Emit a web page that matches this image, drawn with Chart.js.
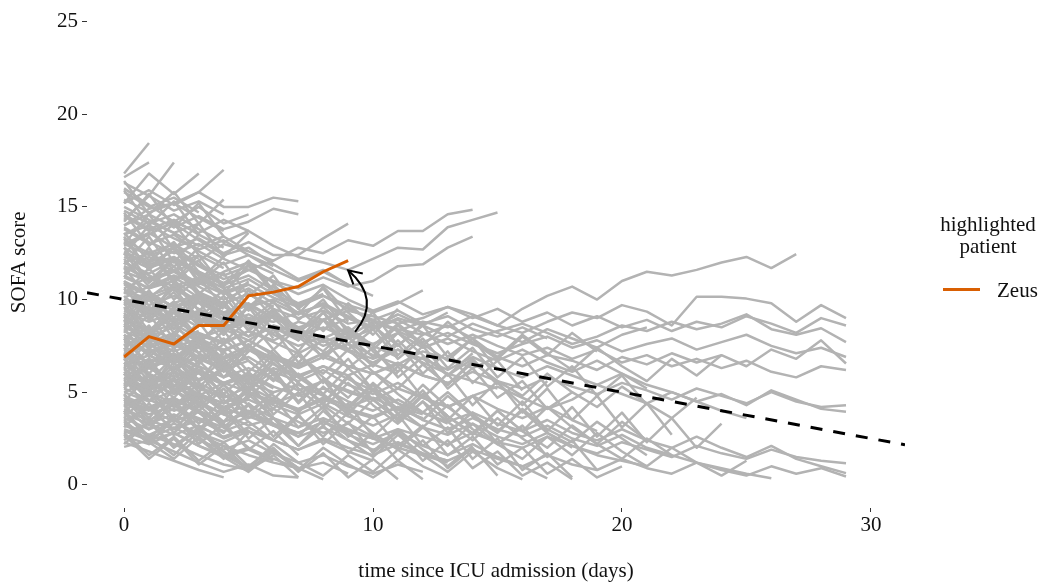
<!DOCTYPE html>
<html>
<head>
<meta charset="utf-8">
<script src="https://cdn.jsdelivr.net/npm/chart.js@4.4.0/dist/chart.umd.min.js"></script>
<style>
  body { margin: 0; background: #fff; }
  #wrap { position: relative; width: 1041px; height: 584px; }
  #legend { font-family: 'Liberation Serif', serif; font-size: 21px; color: #111; }
  #legend .title { position: absolute; left: 930px; top: 213px; width: 116px; text-align: center; line-height: 22px; }
  #legend .key { position: absolute; left: 943px; top: 288px; width: 37px; height: 3px; background: #d95f02; }
  #legend .name { position: absolute; left: 997px; top: 278px; line-height: 24px; }
</style>
</head>
<body>
<div id="wrap">
  <canvas id="myChart" width="1041" height="584"></canvas>
  <div id="legend">
    <div class="title">highlighted<br>patient</div>
    <div class="key"></div>
    <div class="name">Zeus</div>
  </div>
</div>
<script>
// SOFA score per day since admission, one array per patient
let longStays = [
  [11.2, 10.6, 11.0, 10.1, 9.8, 10.3, 9.5, 9.0, 9.4, 8.7, 8.9, 8.3, 8.8, 8.5, 9.1, 8.6, 8.2, 8.8, 9.3, 9.0, 9.7, 9.35, 8.6, 10.15, 10.15, 10.05, 9.8, 8.8, 9.7, 9.0],
  [9.8, 10.4, 9.6, 9.9, 9.2, 8.8, 9.3, 8.5, 8.9, 9.6, 8.8, 8.4, 8.1, 8.6, 7.9, 8.3, 8.7, 8.2, 7.6, 8.0, 8.6, 8.3, 8.8, 8.4, 8.7, 9.2, 8.4, 8.1, 8.45, 7.7],
  [7.5, 8.1, 7.4, 7.9, 8.4, 7.8, 8.6, 8.2, 7.5, 8.0, 8.8, 8.3, 7.7, 8.2, 7.6, 7.1, 7.6, 8.0, 7.4, 7.8, 7.2, 7.6, 7.9, 7.3, 7.7, 8.1, 7.5, 7.1, 7.4, 6.9],
  [6.2, 6.8, 6.3, 7.0, 6.6, 7.3, 6.9, 6.4, 7.1, 7.6, 7.0, 6.5, 7.2, 6.8, 6.3, 6.9, 6.4, 7.0, 6.7, 6.2, 6.9, 6.5, 7.1, 6.6, 7.0, 6.4, 7.3, 6.8, 7.8, 6.55],
  [12.0, 11.3, 10.7, 11.2, 10.4, 9.6, 10.0, 9.3, 9.7, 9.0, 8.4, 8.9, 8.2, 7.6, 8.1, 7.5, 7.0, 7.4, 6.8, 7.3, 6.6, 7.0, 6.4, 6.8, 6.3, 6.7, 6.1, 5.8, 6.4, 6.2],
  [8.6, 8.0, 8.5, 7.7, 7.2, 7.8, 7.0, 6.5, 7.1, 6.4, 6.0, 6.6, 5.9, 5.5, 6.1, 5.6, 5.2, 5.8, 5.3, 4.9, 5.5, 5.1, 4.6, 5.2, 4.8, 4.4, 5.0, 4.5, 4.2, 4.3],
  [5.4, 5.9, 5.2, 4.8, 5.5, 5.0, 4.4, 4.9, 5.6, 5.1, 4.6, 5.2, 4.7, 4.2, 4.8, 5.3, 4.7, 4.1, 4.6, 5.4, 4.9, 4.4, 5.0, 4.5, 4.9, 4.3, 5.1, 4.6, 4.1, 3.95],
  [4.0, 3.5, 4.1, 3.6, 3.1, 3.7, 3.2, 2.8, 3.4, 2.9, 2.5, 3.0, 2.6, 2.2, 2.8, 2.3, 2.0, 2.6, 2.1, 1.7, 2.3, 1.9, 1.5, 2.1, 1.7, 1.4, 1.9, 1.5, 1.3, 1.17],
  [7.0, 6.4, 6.9, 6.1, 5.5, 6.0, 5.3, 4.8, 5.2, 4.5, 4.0, 4.6, 3.9, 3.4, 3.9, 3.3, 2.9, 3.5, 2.8, 2.4, 3.0, 2.4, 2.0, 2.6, 2.0, 1.5, 2.1, 1.4, 1.0, 0.63],
  [3.2, 2.7, 3.3, 2.8, 2.3, 2.9, 2.4, 1.9, 2.5, 2.0, 1.6, 2.2, 1.7, 1.3, 1.9, 1.4, 1.0, 1.6, 1.1, 0.8, 1.4, 0.9, 0.6, 1.2, 0.8, 0.5, 1.0, 0.6, 0.9, 0.45],
  [13.0, 12.4, 12.8, 11.9, 11.3, 11.8, 10.9, 10.3, 10.8, 10.0, 9.4, 9.9, 9.2, 9.6, 9.0, 9.5, 8.8, 9.3, 8.6, 9.1, 8.5, 8.9, 8.3, 8.8, 8.5, 9.1, 8.7, 8.2, 9.0, 8.6]
];

let mediumStays = [
  [9.5, 9.0, 9.8, 10.3, 9.6, 9.0, 8.8, 9.3, 8.9, 9.4, 9.1, 8.7, 9.0, 9.6, 9.2, 8.6, 9.5, 10.2, 10.7, 10.0, 11.0, 11.5, 11.3, 11.6, 12.0, 12.3, 11.7, 12.45],
  [6.0, 5.4, 5.9, 5.2, 4.7, 5.3, 4.6, 4.1, 4.7, 4.0, 3.6, 4.2, 3.5, 3.0, 3.6, 3.0, 2.6, 3.2, 2.5, 2.1, 2.7, 2.0, 1.6, 1.2, 0.9, 0.6, 0.35],
  [10.5, 10.0, 10.6, 9.8, 9.2, 9.7, 9.0, 8.4, 8.9, 8.1, 7.6, 8.2, 7.4, 7.9, 7.2, 6.7, 7.3, 6.6, 6.1, 6.7, 6.0, 5.4, 5.0, 4.5, 4.0, 3.6],
  [9.0, 8.4, 8.9, 8.1, 7.6, 8.3, 7.7, 7.1, 7.8, 7.2, 6.6, 7.3, 6.8, 6.2, 6.9, 6.3, 5.8, 6.4, 5.9, 5.4, 6.0, 5.2],
  [11.8, 11.0, 11.5, 10.7, 10.0, 10.6, 9.8, 9.2, 9.8, 9.1, 8.5, 9.2, 8.6, 8.0, 8.7, 8.2, 7.7, 8.4, 7.9, 7.4, 8.1, 8.5],
  [4.5, 4.0, 4.6, 3.9, 3.4, 4.0, 3.3, 2.8, 3.4, 2.7, 2.2, 2.8, 2.1, 1.6, 2.2, 1.5, 1.0, 0.35],
  [7.8, 7.2, 7.7, 6.9, 6.3, 6.9, 6.1, 5.6, 6.2, 5.4, 4.9, 5.5, 4.7, 4.2, 4.8, 4.1, 3.6, 4.2, 3.5, 2.9],
  [5.8, 5.2, 5.7, 4.9, 4.4, 5.0, 4.3, 3.8, 4.4, 3.7, 3.2, 3.8, 3.1, 2.7, 3.3, 2.6, 2.2, 2.8, 2.1, 1.6, 1.3, 1.0],
  [12.5, 11.8, 12.2, 11.3, 10.6, 11.1, 10.3, 9.7, 10.2, 9.5, 8.9, 9.4, 8.7, 9.1, 8.4, 8.0, 8.5, 7.9],
  [10.0, 9.3, 9.8, 9.0, 8.4, 8.9, 8.1, 7.5, 8.0, 7.3, 6.8, 7.3, 6.6, 6.0, 5.6, 5.2]
];

let lateStays = [
  [7.9, 6.4, 7.8, 6.6, 7.9, 6.7, 5.7, 7.0, 6.0, 7.3, 6.1, 5.2, 6.5, 5.4, 6.6, 5.6, 4.8, 6.0, 5.0, 4.2, 5.3, 4.4, 3.6, 4.7],
  [5.2, 6.5, 5.0, 6.2, 4.9, 6.1, 4.8, 3.9, 5.3, 4.2, 5.5, 4.4, 3.5, 4.8, 3.7, 2.8, 4.1, 3.0, 2.3, 3.4, 2.5, 1.6],
  [10.2, 8.9, 9.9, 8.6, 9.7, 8.4, 9.5, 8.1, 7.2, 8.5, 7.5, 8.7, 7.6, 6.7, 7.9, 6.9, 8.1, 7.1, 6.2, 7.4, 6.4, 5.6, 6.8, 5.9, 7.0],
  [4.3, 3.0, 4.5, 3.3, 4.6, 3.4, 2.4, 3.7, 2.6, 3.9, 2.8, 1.9, 3.1, 2.1, 3.3, 2.2, 1.4, 2.6, 1.6, 2.8, 1.8, 1.0, 2.0, 1.2, 0.5, 1.3],
  [8.8, 10.3, 9.0, 10.4, 9.1, 8.0, 9.4, 8.2, 9.6, 8.4, 7.3, 8.6, 7.5, 8.8, 7.7, 6.8, 8.0, 7.0, 8.2, 7.2],
  [6.6, 5.2, 6.4, 5.0, 3.9, 5.3, 4.1, 5.5, 4.3, 3.3, 4.6, 3.5, 4.8, 3.7, 2.8, 4.0, 2.9, 4.2, 3.1, 2.2, 3.4, 2.4],
  [10.9, 9.3, 10.4, 8.8, 9.9, 8.3, 9.4, 7.8, 8.9, 7.3, 8.4, 6.8, 7.9, 6.3, 7.4, 5.8, 6.9, 5.3, 6.4, 4.8, 5.9, 4.3],
  [7.0, 8.4, 6.7, 8.0, 6.3, 7.6, 5.9, 7.2, 5.5, 6.8, 5.1, 6.4, 4.7, 6.0, 4.3, 5.6, 3.9, 5.2, 3.5, 4.8, 3.1, 4.4, 2.7],
  [9.2, 7.7, 6.5, 7.9, 6.6, 5.4, 6.8, 5.5, 4.4, 5.8, 4.6, 3.5, 4.9, 3.7, 2.7, 4.0, 2.9, 2.0, 3.2, 2.2, 1.4, 2.5, 1.6],
  [6.9, 5.3, 6.6, 5.0, 6.3, 4.7, 6.0, 4.4, 5.7, 4.1, 5.4, 3.8, 5.1, 3.5, 4.8, 3.2, 4.5, 2.9, 4.2, 2.6, 3.9, 2.3, 3.6, 2.0, 3.3]
];

let upperStays = [
  [13.5, 14.2, 13.6, 12.9, 13.4, 12.6, 12.1, 12.8, 12.5, 13.2, 12.9, 13.7, 13.7, 14.6, 14.85],
  [14.8, 14.1, 14.6, 13.8, 13.1, 13.7, 12.9, 12.3, 12.0, 11.6, 12.2, 12.8, 12.7, 13.9, 14.3, 14.7],
  [12.0, 11.4, 12.1, 11.5, 10.9, 11.6, 11.0, 10.6, 11.2, 10.7, 11.0, 11.8, 11.9, 12.8, 13.4],
  [13.0, 13.6, 12.8, 13.3, 12.5, 13.1, 12.4, 12.4, 13.3, 14.1],
  [15.2, 15.9, 15.1, 15.8, 15.0, 15.0, 15.5, 15.3],
  [14.0, 14.6, 13.9, 14.5, 13.8, 14.2, 14.9, 14.6],
  [16.8, 18.45],
  [15.2, 16.8, 15.7, 16.8],
  [14.3, 15.6, 17.4],
  [16.6, 17.4],
  [14.0, 14.9, 15.2, 15.8, 17.0],
  [16.0, 15.1, 14.2, 15.0, 14.1, 14.6]
];

let shortStays = [
  [11.5, 11.0, 11.6, 10.9, 10.3, 10.8, 10.1, 9.6, 10.2, 9.7, 9.3, 9.8, 10.5],
  [9.5, 10.1, 9.4, 8.8, 9.3, 8.7, 8.2, 8.8, 8.4, 9.0, 8.5, 9.2],
  [8.0, 7.5, 8.1, 7.4, 6.9, 7.5, 6.8, 6.3, 6.9, 6.4, 6.0, 6.5, 5.9, 5.5],
  [7.2, 6.6, 7.1, 6.4, 5.8, 6.3, 5.7, 5.1, 5.6, 5.0, 4.6],
  [6.5, 7.0, 6.3, 5.7, 6.2, 5.5, 5.0, 5.4, 4.8, 4.2, 4.7, 4.1, 3.6],
  [5.0, 4.5, 5.1, 4.4, 3.8, 4.3, 3.6, 3.1, 3.6, 3.0, 2.5, 2.0, 1.6, 1.2],
  [3.8, 3.3, 3.8, 3.1, 2.6, 3.1, 2.4, 1.9, 2.4, 1.8, 1.3],
  [2.6, 2.2, 2.8, 2.1, 1.6, 2.0, 1.4, 0.9, 1.2, 0.6],
  [10.8, 10.2, 10.7, 9.9, 9.3, 9.8, 9.0, 8.4, 8.9, 8.1],
  [12.6, 11.9, 12.3, 11.5, 10.8, 11.3, 10.5, 9.8, 10.3],
  [13.8, 13.0, 13.5, 12.6, 11.9, 12.4, 11.6, 11.0, 11.5, 10.8, 10.2],
  [9.0, 9.6, 8.9, 9.4, 8.7, 9.2, 8.5, 8.0, 8.5, 7.9, 8.4, 9.0, 8.6, 9.3],
  [6.0, 5.5, 6.1, 5.6, 6.2, 5.7, 6.3, 5.8, 6.4, 5.9, 6.5, 6.0],
  [4.2, 4.8, 4.3, 4.9, 4.4, 5.0, 4.5, 4.0, 4.6, 4.1, 3.7, 4.2, 3.8],
  [11.0, 10.3, 9.6, 10.1, 9.3, 8.6, 9.1, 8.3, 7.7, 8.2, 7.5, 6.9],
  [14.5, 13.7, 14.1, 13.2, 12.4, 12.8, 11.9, 11.1, 11.6, 10.8],
  [8.3, 7.7, 8.2, 7.4, 6.8, 7.3, 6.5, 5.9, 6.4, 5.7, 5.1, 4.4, 3.9, 3.3],
  [5.6, 5.0, 4.4, 4.9, 4.2, 3.6, 4.1, 3.4, 2.8, 3.3, 2.6],
  [3.0, 2.5, 3.1, 2.4, 1.9, 2.4, 1.7, 1.2, 1.6, 1.0, 0.6, 1.1, 0.7],
  [7.5, 8.1, 7.6, 8.2, 7.7, 8.3, 7.8, 8.4, 7.9, 8.5],
  [10.0, 9.4, 8.8, 9.3, 8.6, 8.0, 8.5, 7.8],
  [4.6, 4.1, 4.7, 4.0, 3.4, 3.9, 3.2, 2.6, 3.1, 2.4, 1.9, 2.3, 1.7, 1.3],
  [8.2, 9.6, 7.9, 10.1, 8.8, 7.4, 9.2, 8.0, 6.9, 8.4, 7.2, 6.1, 7.5, 5.9, 6.8, 5.4],
  [6.8, 5.1, 6.9, 5.6, 7.2, 5.8, 4.6, 6.0, 4.9, 3.8, 5.2, 4.1, 3.1, 4.3, 3.0, 2.2, 3.1],
  [4.9, 3.6, 5.2, 3.9, 2.8, 4.4, 3.3, 2.1, 3.5, 2.4, 1.5, 2.7, 1.6, 0.7, 1.8, 0.9, 0.3],
  [10.6, 9.1, 10.9, 9.4, 8.1, 9.7, 8.4, 7.2, 8.9, 7.6, 6.4, 7.8, 6.5, 5.4, 6.7, 5.5, 4.3, 5.6],
  [12.2, 10.7, 11.8, 10.2, 8.9, 10.5, 9.0, 7.8, 9.3, 8.0, 6.9, 8.2, 7.0, 5.9, 7.1],
  [7.3, 8.6, 6.8, 8.0, 6.5, 5.6, 7.1, 5.8, 4.9, 6.3, 5.1, 4.0, 5.4, 4.2, 3.2],
  [3.4, 2.2, 3.6, 2.5, 1.4, 2.9, 1.8, 0.8, 2.0, 1.1, 0.4, 1.3, 0.3],
  [9.1, 7.6, 8.8, 7.1, 8.3, 6.7, 5.6, 7.0, 5.8, 4.7, 6.1, 4.9, 3.9, 5.0, 3.8, 2.9, 4.0, 2.8, 2.0],
  [5.9, 7.4, 6.2, 7.8, 6.4, 5.2, 6.8, 5.5, 4.4, 5.9, 4.6, 3.6, 4.9, 3.7],
  [11.4, 12.6, 10.9, 12.1, 10.6, 9.4, 10.8, 9.5, 8.3, 9.8, 8.6, 7.5, 8.7],
  [2.4, 3.4, 2.1, 3.1, 1.8, 0.9, 2.2, 1.2, 0.5, 1.6, 0.7, 1.9, 1.0, 0.4],
  [8.9, 7.3, 6.2, 7.7, 6.3, 5.0, 6.6, 5.2, 4.1, 5.5, 4.3, 3.3, 4.5, 3.4, 2.4, 3.6, 2.5, 1.6],
  [13.6, 12.1, 13.1, 11.5, 10.3, 11.9, 10.4, 9.2, 10.7, 9.3, 8.1, 9.5],
  [6.3, 4.8, 6.1, 4.5, 3.4, 4.9, 3.6, 2.6, 4.0, 2.8, 1.8, 3.0, 1.9, 1.0, 2.1],
  [9.8, 8.1, 9.5, 7.6, 8.9, 7.2, 8.4, 6.6, 7.9, 6.3, 7.4, 5.8, 6.9, 5.2, 6.3, 4.7, 5.6, 4.1, 5.0],
  [7.6, 6.0, 7.4, 5.6, 6.8, 5.1, 6.2, 4.5, 5.7, 3.9, 5.1, 3.4, 4.5, 2.8, 3.9, 2.2, 3.2, 1.5, 2.4, 0.8],
  [5.3, 6.7, 4.9, 6.1, 4.4, 5.6, 3.8, 5.0, 3.2, 4.4, 2.6, 3.8, 2.1, 3.1, 1.4, 2.5, 0.8, 1.7, 0.4],
  [12.8, 11.0, 12.2, 10.3, 11.4, 9.6, 10.7, 8.9, 10.0, 8.2, 9.3, 7.5, 8.6, 6.9, 7.9, 6.2],
  [3.9, 5.2, 3.6, 4.8, 3.1, 4.3, 2.6, 3.8, 2.2, 3.4, 1.7, 2.9, 1.3, 2.4, 0.9, 1.8, 0.5, 1.2, 0.3],
  [8.5, 10.0, 8.2, 9.4, 7.7, 8.9, 7.3, 8.5, 6.8, 8.0, 6.4, 7.6, 6.0, 7.2, 5.5, 6.7, 5.1],
  [6.1, 4.5, 5.7, 4.0, 5.2, 3.6, 4.7, 3.1, 4.2, 2.6, 3.7, 2.1, 3.2, 1.6, 2.6, 1.1, 2.0, 0.6, 1.4, 0.4, 1.0],
  [4.7, 3.2, 4.4, 2.9, 4.0, 2.5, 3.6, 2.1, 3.2, 1.7, 2.8, 1.3, 2.4, 0.9, 2.0, 0.5],
  [11.7, 10.1, 11.1, 9.4, 10.5, 8.8, 9.9, 8.2, 9.3, 7.6, 8.7, 7.0, 8.1],
  [2.8, 1.6, 2.6, 1.3, 2.3, 1.0, 2.0, 0.7, 1.7, 0.4, 1.4, 0.3],
  [3.5, 2.3, 1.4, 2.6, 1.5, 0.7, 1.8, 0.9, 0.3],
  [13.4, 11.6, 12.8, 10.9, 12.0, 10.2, 11.3, 9.5, 10.6, 8.8]
];

let briefStays = [
  [15.0, 14.3, 13.6, 14.1], [14.6, 13.8, 14.3, 13.5, 12.8], [13.9, 13.1, 12.5, 13.0, 12.2, 11.6, 12.1],
  [13.2, 12.5, 13.0, 12.2], [12.8, 12.0, 12.6, 11.8, 11.1, 11.6], [12.3, 11.7, 12.2, 11.4, 10.8],
  [11.8, 11.1, 11.6, 10.8], [11.3, 10.6, 11.2, 10.4, 9.8, 10.3, 9.6], [10.9, 10.3, 9.6],
  [10.4, 9.7, 10.2, 9.5, 8.9], [9.9, 9.2, 9.7, 8.9, 8.3, 8.8], [9.4, 8.8, 9.3, 8.5],
  [8.9, 8.2, 8.7, 7.9, 7.3, 7.8, 7.1], [8.5, 7.9, 7.2, 7.7], [8.1, 7.4, 7.9, 7.1, 6.5],
  [7.7, 7.1, 7.6, 6.8, 6.2, 6.7], [7.3, 6.6, 7.0, 6.3], [6.9, 6.3, 6.8, 6.0, 5.4, 5.9, 5.2],
  [6.6, 6.0, 5.4], [6.2, 5.6, 6.1, 5.3, 4.7], [5.8, 5.1, 5.6, 4.8, 4.2, 4.7],
  [5.5, 4.9, 5.4, 4.6], [5.2, 4.6, 4.0, 4.5, 3.8, 3.2, 3.6], [4.8, 4.2, 4.7, 3.9, 3.3],
  [4.4, 3.8, 4.3, 3.5, 2.9, 3.4], [4.1, 3.5, 3.0, 3.5, 2.8], [3.6, 3.0, 3.5, 2.7, 2.1, 1.6, 1.2, 0.9],
  [3.3, 2.7, 2.2, 1.6, 1.1, 0.8], [2.9, 2.4, 2.8, 2.1, 1.5, 1.9, 1.3], [2.3, 1.8, 1.3, 0.8, 0.4],
  [2.05, 2.4, 1.8, 1.2, 0.7, 1.1, 0.5, 0.4], [15.4, 14.7, 15.2, 14.4, 13.7], [13.5, 14.0, 13.3, 12.7, 13.2, 12.4, 11.8],
  [12.0, 12.5, 11.8, 12.4, 11.7], [10.6, 11.2, 10.5, 11.1, 10.4, 10.9], [9.7, 10.3, 9.6, 10.2, 9.5],
  [8.7, 9.3, 8.6, 9.2, 8.5, 9.0], [7.9, 8.5, 7.8, 8.3], [7.0, 7.6, 6.9, 7.5, 6.8, 7.3, 6.7],
  [6.4, 7.0, 6.3, 6.9], [5.7, 6.3, 5.6, 6.2, 5.5, 6.0], [5.0, 5.6, 4.9, 5.5, 4.8],
  [4.3, 4.9, 4.2, 4.8, 4.1, 4.6, 4.0], [3.5, 4.1, 3.4, 4.0, 3.3], [2.8, 3.3, 2.7, 3.2, 2.5, 3.0],
  [11.6, 12.3, 11.5, 12.1, 13.0, 12.6], [16.3, 15.6, 14.8, 15.3, 14.6], [15.8, 15.0, 15.5, 14.7],
  [12.9, 13.5, 14.2, 13.6, 14.3, 13.7], [10.1, 10.7, 11.3, 10.8, 11.5, 12.0, 11.4],
  [14.7, 12.9, 14.1, 12.4], [13.3, 11.6, 12.9, 11.0, 12.3], [12.5, 10.9, 12.1, 10.4, 9.6, 11.0],
  [11.9, 13.4, 11.5, 12.8], [11.0, 9.4, 10.6, 9.0, 10.2, 8.6, 9.7], [10.3, 11.7, 10.0, 11.2, 9.6],
  [9.6, 8.0, 9.3, 7.7, 8.9, 7.3], [9.0, 10.5, 8.7, 10.1], [8.4, 6.9, 8.0, 6.5, 7.6, 6.1, 7.3, 5.9],
  [7.8, 9.2, 7.4, 8.8, 7.0], [7.1, 5.6, 6.9, 5.3, 6.4], [6.7, 8.1, 6.5, 7.8, 6.1, 7.4],
  [6.0, 4.5, 5.8, 4.2, 5.4, 3.9, 5.0], [5.4, 6.8, 5.1, 6.4, 4.8], [4.9, 3.4, 4.6, 3.0, 4.2, 2.7],
  [4.5, 5.9, 4.2, 5.5, 3.9, 5.1, 3.6], [3.9, 2.5, 3.7, 2.2, 3.3, 1.9, 2.9, 1.6], [3.1, 4.4, 2.8, 4.0, 2.5],
  [2.7, 1.4, 2.5, 1.1, 2.1, 0.8, 1.6, 0.4], [2.2, 3.4, 2.0, 3.0, 1.6, 0.9], [15.9, 14.0, 15.3, 13.5],
  [14.2, 15.7, 13.9, 15.2, 13.4], [16.4, 14.6, 15.8, 14.1, 15.4], [13.0, 14.6, 12.7, 14.1, 12.3, 13.6],
  [12.4, 14.0, 12.0, 13.5], [11.2, 12.8, 11.0, 12.4, 10.7, 12.1, 10.5], [10.0, 8.3, 9.6, 7.9],
  [9.3, 7.7, 6.6, 8.0, 6.8], [8.1, 6.4, 5.3, 6.7, 5.4, 4.3], [7.4, 5.8, 4.7, 6.1, 4.9, 3.8, 5.0],
  [5.7, 4.1, 3.0, 4.3, 3.1, 2.0], [4.0, 2.6, 1.6, 2.9, 1.8, 0.8, 1.9, 0.9], [3.6, 5.0, 3.4, 4.7, 3.2],
  [6.3, 7.8, 6.0, 7.5, 5.8, 7.2], [8.6, 10.1, 8.4, 9.9, 8.1, 9.6, 7.9]
];

let zeus = [6.9, 8.0, 7.6, 8.6, 8.6, 10.2, 10.4, 10.7, 11.5, 12.1];

// fitted trend, drawn across the panel
let trendX = [-1.49, 31.37];
let trendY = [10.37, 2.16];

// annotation arrow: start, bend, tip (data units)
let arrowX = [9.28, 10.36, 9.0];
let arrowY = [8.26, 10.0, 11.58];

let dayTicks = [0, 10, 20, 30];
let scoreTicks = [0, 5, 10, 15, 20, 25];

Chart.defaults.font.family = "'Liberation Serif', serif";
Chart.defaults.font.size = 21;
Chart.defaults.color = '#111';

let toPoints = vals => vals.map((v, day) => ({ x: day, y: v }));

let greyLines = [...longStays, ...mediumStays, ...lateStays, ...upperStays, ...shortStays, ...briefStays];
let datasets = greyLines.map(vals => ({
  data: toPoints(vals),
  borderColor: '#b3b3b3',
  borderWidth: 2.5,
  pointRadius: 0,
  borderJoinStyle: 'round',
  order: 2
}));
datasets.push({
  label: 'Zeus',
  data: toPoints(zeus),
  borderColor: '#d95f02',
  borderWidth: 3,
  pointRadius: 0,
  borderJoinStyle: 'round',
  order: 1
});
datasets.push({
  data: trendX.map((x, i) => ({ x: x, y: trendY[i] })),
  borderColor: '#000',
  borderWidth: 3,
  borderDash: [12, 11],
  pointRadius: 0,
  order: 0
});

// curved arrow pointing at the end of the highlighted line
let arrowPlugin = {
  id: 'arrow',
  afterDatasetsDraw(chart) {
    let ctx = chart.ctx;
    let xs = chart.scales.x, ys = chart.scales.y;
    let p = arrowX.map((x, i) => [xs.getPixelForValue(x), ys.getPixelForValue(arrowY[i])]);
    ctx.save();
    ctx.strokeStyle = '#000';
    ctx.lineWidth = 2;
    ctx.lineCap = 'butt';
    ctx.beginPath();
    ctx.moveTo(p[0][0], p[0][1]);
    ctx.quadraticCurveTo(p[1][0], p[1][1], p[2][0], p[2][1]);
    ctx.stroke();
    let ang = Math.atan2(p[1][1] - p[2][1], p[1][0] - p[2][0]);
    let len = 15;
    ctx.beginPath();
    ctx.moveTo(p[2][0] + len * Math.cos(ang - 0.5), p[2][1] + len * Math.sin(ang - 0.5));
    ctx.lineTo(p[2][0], p[2][1]);
    ctx.lineTo(p[2][0] + len * Math.cos(ang + 0.5), p[2][1] + len * Math.sin(ang + 0.5));
    ctx.stroke();
    ctx.restore();
  }
};

let myChart = new Chart(document.getElementById('myChart').getContext('2d'), {
  type: 'line',
  data: { datasets: datasets },
  plugins: [arrowPlugin],
  options: {
    responsive: false,
    animation: false,
    layout: { padding: { left: 0, right: 136, top: 16, bottom: 0 } },
    plugins: { legend: { display: false }, tooltip: { enabled: false } },
    scales: {
      x: {
        type: 'linear',
        min: -1.49,
        max: 31.37,
        afterBuildTicks: s => { s.ticks = dayTicks.map(v => ({ value: v })); },
        afterFit: s => { s.height = 76; },
        ticks: { padding: 1, maxRotation: 0, color: '#111' },
        grid: { drawOnChartArea: false, drawTicks: true, tickLength: 4, color: '#333', lineWidth: 1 },
        border: { display: false },
        title: { display: true, text: 'time since ICU admission (days)', color: '#111', padding: { top: 0, bottom: 0 } }
      },
      y: {
        min: -1.25,
        max: 25.27,
        afterBuildTicks: s => { s.ticks = scoreTicks.map(v => ({ value: v })); },
        afterFit: s => { s.width = 87; },
        ticks: { padding: 4, color: '#111' },
        grid: { drawOnChartArea: false, drawTicks: true, tickLength: 5, color: '#333', lineWidth: 1 },
        border: { display: false },
        title: { display: true, text: 'SOFA score', color: '#111', padding: { top: 7, bottom: 0 } }
      }
    }
  }
});
</script>
</body>
</html>
